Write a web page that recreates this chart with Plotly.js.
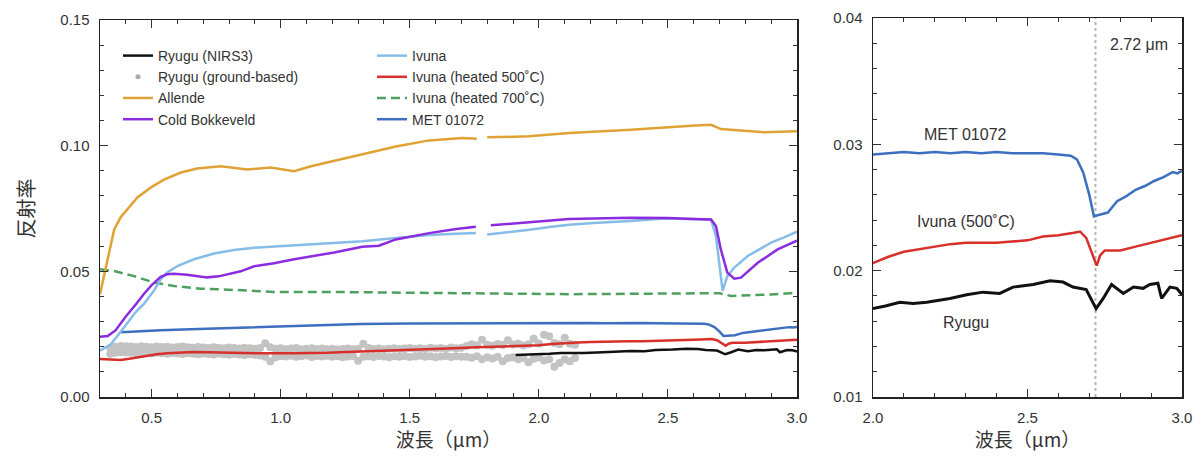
<!DOCTYPE html>
<html>
<head>
<meta charset="utf-8">
<script src="https://cdn.plot.ly/plotly-3.0.1.min.js"></script>
<style>html,body{margin:0;padding:0;background:#fff;}#chart{width:1203px;height:466px;}</style>
</head>
<body>
<div id="chart"></div>
<script>
// ---------------- data ----------------
const ryuguNirsX = [1.91,1.95,2.00,2.04,2.087,2.13,2.174,2.249,2.303,2.356,2.41,2.453,2.518,2.573,2.615,2.647,2.69,2.722,2.745,2.772,2.81,2.843,2.874,2.896,2.922,2.934,2.961,2.983,3.0];
const ryuguNirsY = [0.0167,0.0168,0.0170,0.0172,0.0175,0.0174,0.0175,0.0178,0.0181,0.0183,0.0182,0.0187,0.0189,0.0192,0.0191,0.0187,0.0185,0.0170,0.0178,0.0189,0.0182,0.0187,0.0186,0.0189,0.0190,0.0178,0.0187,0.0186,0.0181];

const groundX = [0.34,0.36,0.38,0.40,
  0.42,0.44,0.46,0.48,0.50,0.52,0.54,0.56,0.58,0.60,0.62,0.64,0.66,0.68,0.70,0.72,0.74,0.76,0.78,0.80,0.82,0.84,0.86,0.88,0.90,
  0.92,0.94,0.96,0.98,1.00,1.02,1.04,1.06,1.08,1.10,1.12,1.14,1.16,1.18,1.20,1.22,1.24,1.26,1.28,1.30,
  1.32,1.34,1.36,1.38,1.40,1.42,1.44,1.46,1.48,1.50,1.52,1.54,1.56,1.58,1.60,1.62,1.64,1.66,1.68,1.70,
  1.72,1.74,1.76,1.78,1.80,1.82,1.84,1.86,1.88,1.90,1.92,1.94,1.96,1.98,2.00,2.02,2.04,2.06,2.08,2.10,2.12,2.14];
const groundHigh = [0.0195,0.0200,0.0203,0.0202,
  0.0201,0.0199,0.0202,0.0200,0.0198,0.0201,0.0199,0.0200,0.0197,0.0199,0.0201,0.0198,0.0196,0.0199,0.0197,0.0195,0.0198,0.0196,0.0194,0.0197,0.0195,0.0193,0.0196,0.0194,0.0192,
  0.0195,0.0214,0.0198,0.0192,0.0194,0.0191,0.0193,0.0195,0.0190,0.0192,
  0.0194,0.0191,0.0193,0.0190,0.0192,0.0189,0.0191,0.0193,0.0190,0.0192,
  0.0212,0.0195,0.0191,0.0193,0.0190,0.0192,0.0194,0.0191,0.0193,0.0195,
  0.0192,0.0194,0.0191,0.0196,0.0193,0.0195,0.0192,0.0197,0.0194,0.0196,
  0.0203,0.0210,0.0206,0.0228,0.0208,0.0204,0.0211,0.0207,0.0226,0.0209,0.0212,0.0205,0.0210,0.0232,0.0213,0.0248,0.0242,0.0215,0.0210,0.0236,0.0212,0.0208];
const groundLow = [0.0172,0.0176,0.0178,0.0177,
  0.0176,0.0174,0.0177,0.0175,0.0173,0.0176,0.0174,0.0172,0.0175,0.0173,0.0171,0.0174,0.0172,0.0170,0.0173,0.0171,0.0169,0.0172,0.0170,0.0168,0.0171,0.0169,0.0167,0.0170,0.0168,
  0.0165,0.0160,0.0142,0.0158,0.0163,0.0161,0.0164,0.0160,0.0162,0.0165,
  0.0159,0.0163,0.0161,0.0164,0.0160,0.0162,0.0158,0.0161,0.0163,0.0144,
  0.0160,0.0162,0.0159,0.0163,0.0161,0.0158,0.0162,0.0160,0.0163,0.0159,
  0.0161,0.0164,0.0160,0.0162,0.0158,0.0161,0.0163,0.0159,0.0162,0.0160,
  0.0160,0.0156,0.0162,0.0150,0.0158,0.0153,0.0160,0.0142,0.0155,0.0158,0.0150,0.0156,0.0138,0.0152,0.0157,0.0145,0.0150,0.0120,0.0135,0.0150,0.0142,0.0155];

const allendeX = [0.30,0.33,0.355,0.38,0.406,0.445,0.496,0.548,0.613,0.676,0.768,0.87,0.96,1.052,1.117,1.188,1.316,1.446,1.575,1.704,1.76,1.78,1.80,1.963,2.117,2.357,2.59,2.667,2.705,2.874,3.0];
const allendeY = [0.0409,0.0550,0.0667,0.0715,0.0746,0.0794,0.0833,0.0865,0.0893,0.0909,0.0918,0.0905,0.0913,0.0898,0.0918,0.0935,0.0964,0.0997,0.1021,0.1031,0.1028,null,0.1033,0.1037,0.1050,0.1063,0.1079,0.1083,0.1066,0.1053,0.1057];

const coldBokX = [0.30,0.33,0.36,0.40,0.44,0.47,0.50,0.535,0.56,0.587,0.637,0.68,0.715,0.76,0.793,0.845,0.897,0.974,1.052,1.129,1.207,1.316,1.38,1.446,1.575,1.68,1.756,1.78,1.814,1.963,2.117,2.357,2.5,2.6,2.667,2.686,2.705,2.73,2.757,2.783,2.848,2.925,3.0];
const coldBokY = [0.0240,0.0243,0.0265,0.0320,0.0370,0.0410,0.0445,0.0478,0.0488,0.0490,0.0486,0.0479,0.0476,0.0480,0.0488,0.0500,0.0520,0.0532,0.0548,0.0561,0.0575,0.0598,0.0602,0.0627,0.0652,0.0668,0.0677,null,0.0683,0.0696,0.0708,0.0713,0.0712,0.0708,0.0706,0.0680,0.0587,0.0495,0.0471,0.0475,0.0534,0.0587,0.0622];

const ivunaX = [0.30,0.342,0.38,0.406,0.44,0.47,0.51,0.535,0.56,0.60,0.664,0.742,0.819,0.897,1.0,1.10,1.207,1.316,1.446,1.575,1.68,1.756,1.78,1.80,1.88,1.963,2.05,2.117,2.226,2.357,2.486,2.58,2.667,2.686,2.70,2.712,2.73,2.757,2.809,2.90,2.95,3.0];
const ivunaY = [0.0184,0.0210,0.0260,0.0296,0.0340,0.0370,0.0425,0.0468,0.0495,0.0521,0.0548,0.0571,0.0585,0.0594,0.0600,0.0607,0.0614,0.0620,0.0633,0.0645,0.0650,0.0653,null,0.0647,0.0655,0.0665,0.0677,0.0685,0.0693,0.0700,0.0710,0.0708,0.0706,0.0640,0.0508,0.0422,0.0481,0.0515,0.0561,0.0614,0.0635,0.0658];

const ivuna500X = [0.30,0.34,0.38,0.42,0.47,0.52,0.56,0.62,0.66,0.72,0.79,0.92,1.05,1.18,1.31,1.44,1.57,1.67,1.76,1.90,2.0,2.05,2.1,2.15,2.2,2.25,2.3,2.35,2.4,2.45,2.5,2.55,2.6,2.65,2.67,2.69,2.70,2.713,2.724,2.735,2.75,2.8,2.85,2.9,2.95,3.0];
const ivuna500Y = [0.0151,0.0149,0.0147,0.0153,0.0162,0.0170,0.0174,0.0178,0.0179,0.0178,0.0176,0.0174,0.0174,0.0176,0.0181,0.0185,0.0190,0.0194,0.0198,0.0203,0.0206,0.0211,0.0215,0.0217,0.0219,0.0221,0.0222,0.0222,0.0222,0.0223,0.0224,0.0227,0.0228,0.0230,0.0231,0.0226,0.0219,0.0211,0.0204,0.0212,0.0216,0.0216,0.0219,0.0222,0.0225,0.0228];

const ivuna700X = [0.30,0.355,0.432,0.51,0.587,0.69,0.819,0.974,1.18,1.5,1.8,2.117,2.4,2.667,2.70,2.744,2.8,2.9,3.0];
const ivuna700Y = [0.0508,0.0501,0.0481,0.0455,0.0442,0.0431,0.0426,0.0418,0.0418,0.0414,0.0412,0.0409,0.0411,0.0415,0.0413,0.0402,0.0404,0.0408,0.0415];

const metX = [0.38,0.45,0.535,0.65,0.793,0.9,1.052,1.2,1.31,1.5,1.672,1.85,2.00,2.05,2.10,2.15,2.20,2.25,2.30,2.35,2.40,2.45,2.50,2.55,2.60,2.64,2.66,2.68,2.70,2.715,2.73,2.76,2.79,2.82,2.85,2.88,2.91,2.94,2.97,2.985,3.0];
const metY = [0.0258,0.0262,0.0266,0.0270,0.0274,0.0278,0.0283,0.0287,0.0290,0.0292,0.0293,0.0293,0.0292,0.0293,0.0294,0.0293,0.0294,0.0293,0.0294,0.0293,0.0294,0.0293,0.0293,0.0293,0.0292,0.0291,0.0288,0.0278,0.0260,0.0243,0.0244,0.0246,0.0255,0.0259,0.0264,0.0267,0.0271,0.0274,0.0278,0.0277,0.0279];

const bandCenter = 2.72;

const names = {
  nirs: 'Ryugu (NIRS3)', ground: 'Ryugu (ground-based)', allende: 'Allende', cb: 'Cold Bokkeveld',
  ivuna: 'Ivuna', iv500: 'Ivuna (heated 500˚C)', iv700: 'Ivuna (heated 700˚C)', met: 'MET 01072'
};
const colors = {
  nirs: '#111111', ground: '#c3c3c3', allende: '#DFA335', cb: '#8B2BE0',
  ivuna: '#86BDE8', iv500: '#D7302A', iv700: '#4DA05E', met: '#3D6FC0'
};
const LW = 2.5;

// ---------------- traces ----------------
const traces = [];
traces.push({x: groundX.concat(groundX), y: groundHigh.concat(groundLow), type: 'scatter', mode: 'markers',
  name: names.ground, marker: {color: colors.ground, size: 8}, showlegend: false});
// legend entry for the ground-based points (small dot as in the reference key)
traces.push({x: [null], y: [null], type: 'scatter', mode: 'markers', name: names.ground,
  marker: {color: '#aaaaaa', size: 5}, legend: 'legend', legendrank: 2});
traces.push({x: ivuna500X, y: ivuna500Y, mode: 'lines', name: names.iv500, line: {color: colors.iv500, width: LW}, legend: 'legend2', legendrank: 2});
traces.push({x: ivuna700X, y: ivuna700Y, mode: 'lines', name: names.iv700, line: {color: colors.iv700, width: LW, dash: '9px,5px'}, legend: 'legend2', legendrank: 3});
traces.push({x: metX, y: metY, mode: 'lines', name: names.met, line: {color: colors.met, width: LW}, legend: 'legend2', legendrank: 4});
traces.push({x: ivunaX, y: ivunaY, mode: 'lines', name: names.ivuna, line: {color: colors.ivuna, width: LW}, legend: 'legend2', legendrank: 1, connectgaps: false});
traces.push({x: coldBokX, y: coldBokY, mode: 'lines', name: names.cb, line: {color: colors.cb, width: LW}, legend: 'legend', legendrank: 4, connectgaps: false});
traces.push({x: allendeX, y: allendeY, mode: 'lines', name: names.allende, line: {color: colors.allende, width: LW}, legend: 'legend', legendrank: 3, connectgaps: false});
traces.push({x: ryuguNirsX, y: ryuguNirsY, mode: 'lines', name: names.nirs, line: {color: colors.nirs, width: LW}, legend: 'legend', legendrank: 1});

// right panel (zoom)
traces.push({x: ivuna500X, y: ivuna500Y, mode: 'lines', xaxis: 'x2', yaxis: 'y2', showlegend: false, line: {color: colors.iv500, width: LW}});
traces.push({x: metX, y: metY, mode: 'lines', xaxis: 'x2', yaxis: 'y2', showlegend: false, line: {color: colors.met, width: LW}});
traces.push({x: ryuguNirsX, y: ryuguNirsY, mode: 'lines', xaxis: 'x2', yaxis: 'y2', showlegend: false, line: {color: colors.nirs, width: 3}});

const latin = 'Liberation Sans, Arial, Helvetica, sans-serif';
const cjk = 'Noto Sans CJK JP, Noto Sans CJK SC, sans-serif';
const tickFont = {family: latin, size: 15, color: '#333'};

function axisBase(extra) {
  return Object.assign({
    showline: true, linecolor: '#222', linewidth: 1.5, mirror: 'allticks',
    ticks: 'inside', ticklen: 8, tickwidth: 1, tickcolor: '#333',
    showgrid: false, zeroline: false, tickfont: tickFont, fixedrange: true
  }, extra);
}

const layout = {
  width: 1203, height: 466,
  margin: {l: 0, r: 0, t: 0, b: 0},
  paper_bgcolor: '#fff', plot_bgcolor: '#fff',
  font: {family: latin, color: '#333'},
  xaxis: axisBase({domain: [100/1203, 797/1203], range: [0.3, 3.0], dtick: 0.5, tick0: 0, tickformat: '.1f',
    minor: {dtick: 0.1, ticklen: 4, ticks: 'inside', tickcolor: '#333'},
    ticklabelstandoff: 6,
    title: {text: '波長（μm）', font: {family: cjk, size: 19, color: '#333'}, standoff: 8}, anchor: 'y'}),
  yaxis: axisBase({domain: [1-397/466, 1-20/466], range: [0, 0.15], dtick: 0.05, tickformat: '.2f',
    minor: {dtick: 0.01, ticklen: 4, ticks: 'inside', tickcolor: '#333'},
    ticklabelstandoff: 6,
    title: {text: '反射率', font: {family: cjk, size: 20, color: '#333'}, standoff: 20}, anchor: 'x'}),
  xaxis2: axisBase({domain: [873/1203, 1182/1203], range: [2.0, 3.0], dtick: 0.5, tick0: 0, tickformat: '.1f',
    minor: {dtick: 0.1, ticklen: 4, ticks: 'inside', tickcolor: '#333'},
    ticklabelstandoff: 6,
    title: {text: '波長（μm）', font: {family: cjk, size: 19, color: '#333'}, standoff: 8}, anchor: 'y2'}),
  yaxis2: axisBase({domain: [1-397/466, 1-18/466], range: [0.01, 0.04], dtick: 0.01, tickformat: '.2f',
    minor: {dtick: 0.002, ticklen: 4, ticks: 'inside', tickcolor: '#333'},
    ticklabelstandoff: 6, anchor: 'x2'}),
  showlegend: true,
  legend: {x: 118/1203, xanchor: 'left', y: 1-40/466, yanchor: 'top', bgcolor: 'rgba(0,0,0,0)',
    font: {family: latin, size: 14, color: '#333'}, tracegroupgap: 0, itemwidth: 30, traceorder: 'normal'},
  legend2: {x: 372/1203, xanchor: 'left', y: 1-40/466, yanchor: 'top', bgcolor: 'rgba(0,0,0,0)',
    font: {family: latin, size: 14, color: '#333'}, tracegroupgap: 0, itemwidth: 30, traceorder: 'normal'},
  shapes: [{type: 'line', xref: 'x2', yref: 'y2', x0: bandCenter, x1: bandCenter, y0: 0.01, y1: 0.04,
    line: {color: '#b5b5b5', width: 2, dash: 'dot'}, layer: 'below'}],
  annotations: [
    {xref: 'x2', yref: 'y2', x: 2.86, y: 0.0379, text: bandCenter.toFixed(2) + ' μm', showarrow: false,
      font: {family: latin, size: 16, color: '#333'}, bgcolor: '#fff'},
    {xref: 'x2', yref: 'y2', x: 2.30, y: 0.0308, text: names.met, showarrow: false,
      font: {family: latin, size: 16, color: '#333'}},
    {xref: 'x2', yref: 'y2', x: 2.30, y: 0.0239, text: 'Ivuna (500˚C)', showarrow: false,
      font: {family: latin, size: 16, color: '#333'}},
    {xref: 'x2', yref: 'y2', x: 2.30, y: 0.0159, text: 'Ryugu', showarrow: false,
      font: {family: latin, size: 16, color: '#333'}}
  ]
};

Plotly.newPlot('chart', traces, layout, {staticPlot: true, displayModeBar: false});
</script>
</body>
</html>
